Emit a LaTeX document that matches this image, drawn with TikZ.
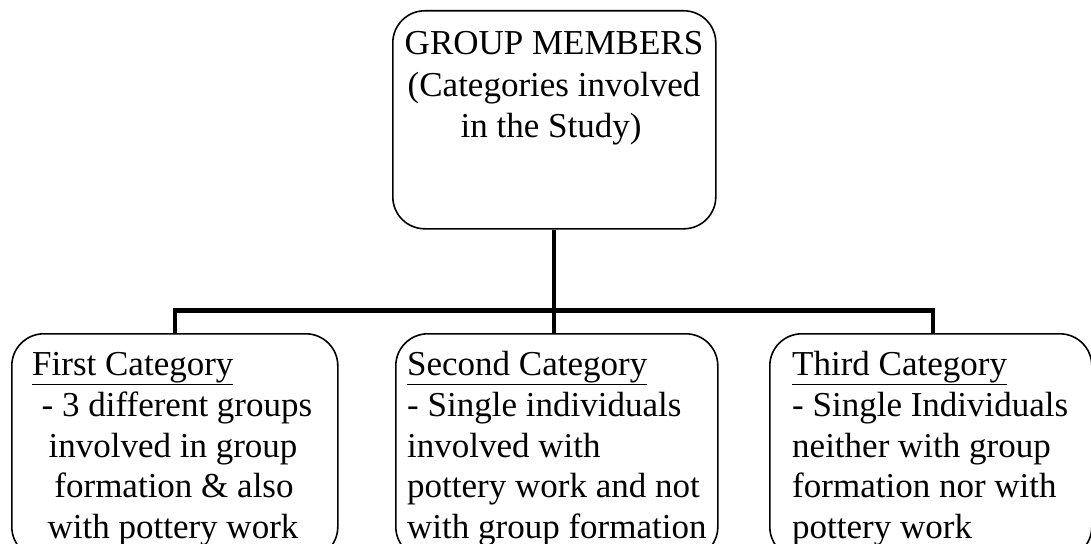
\documentclass[tikz,border=0pt]{standalone}
\usepackage{fontspec}
\setmainfont{Liberation Serif}
\begin{document}
\begin{tikzpicture}[x=1pt,y=-1pt,
  box/.style={draw=black, line width=1.6pt, rounded corners=32pt, inner sep=0pt},
  conn/.style={draw=black, line width=4.5pt},
  txt/.style={inner sep=0pt, font=\fontsize{35}{41}\selectfont}]
\useasboundingbox (0,0) rectangle (1091,543);
\clip (0,0) rectangle (1091,543);
\fill[white] (0,0) rectangle (1091,543);
% boxes
\node[box, minimum width=323pt, minimum height=218pt, anchor=north west] (top) at (392,10) {};
\node[box, minimum width=326pt, minimum height=225pt, anchor=north west] (b1) at (11,333) {};
\node[box, minimum width=322pt, minimum height=225pt, anchor=north west] (b2) at (395,333) {};
\node[box, minimum width=322pt, minimum height=225pt, anchor=north west] (b3) at (769,333) {};
% connectors
\coordinate (hub) at (554,310.5);
\coordinate (hl) at (175,310.5);
\coordinate (hr) at (933,310.5);
\draw[conn] (top.south -| hub) -- (hub);
\draw[conn, line cap=rect] (hl) -- (hr);
\draw[conn] (hl) -- (hl |- b1.north);
\draw[conn] (hub) -- (hub |- b2.north);
\draw[conn] (hr) -- (hr |- b3.north);
% top text
\node[txt, anchor=base] (t1) at (554,55) {GROUP MEMBERS};
\node[txt, anchor=base] (t2) at (554,96) {(Categories involved};
\node[txt, anchor=base] (t3) at (551,137) {in the Study)};
% first category
\node[txt, anchor=base west] (a1) at (32,375) {\underline{First Category}};
\node[txt, anchor=base] (a2) at (177,416) {- 3 different groups};
\node[txt, anchor=base] (a3) at (173,457) {involved in group};
\node[txt, anchor=base] (a4) at (174,497) {formation \& also};
\node[txt, anchor=base] (a5) at (173,538) {with pottery work};
% second category
\node[txt, anchor=base west] (m1) at (407,375) {\underline{Second Category}};
\node[txt, anchor=base west] (m2) at (407,416) {- Single individuals};
\node[txt, anchor=base west] (m3) at (407,457) {involved with};
\node[txt, anchor=base west] (m4) at (407,497) {pottery work and not};
\node[txt, anchor=base west] (m5) at (407,538) {with group formation};
% third category
\node[txt, anchor=base west] (r1) at (792,375) {\underline{Third Category}};
\node[txt, anchor=base west] (r2) at (792,416) {- Single Individuals};
\node[txt, anchor=base west] (r3) at (792,457) {neither with group};
\node[txt, anchor=base west] (r4) at (792,497) {formation nor with};
\node[txt, anchor=base west] (r5) at (792,538) {pottery work};
\end{tikzpicture}
\end{document}
